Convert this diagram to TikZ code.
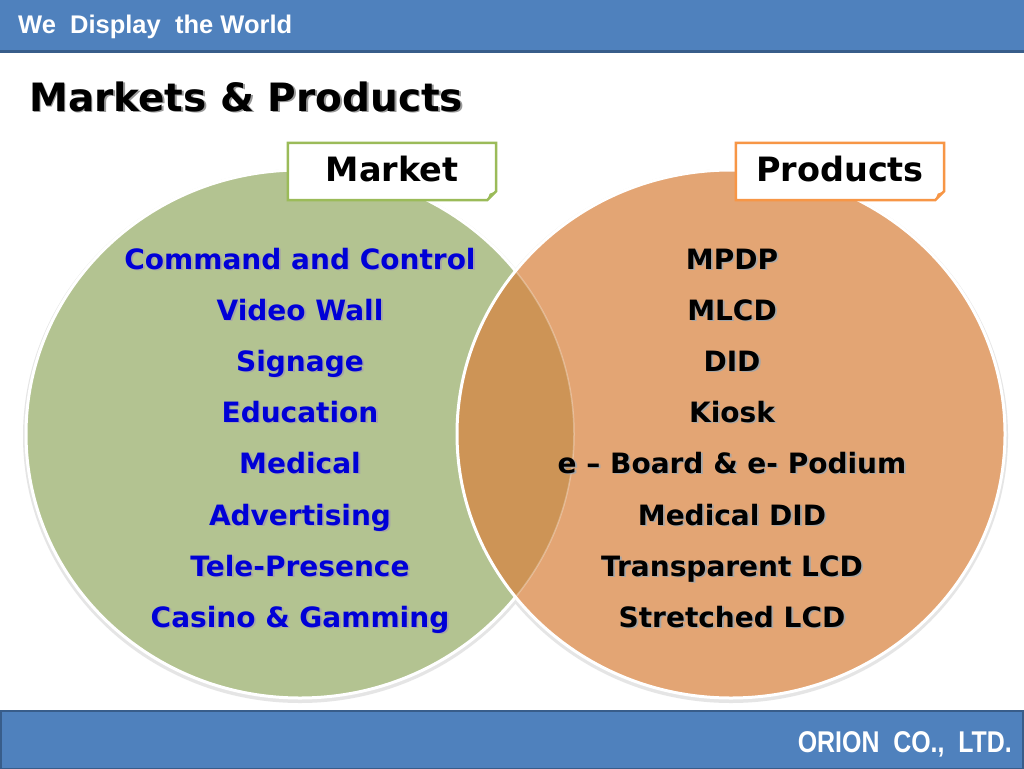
\documentclass[tikz,border=0pt]{standalone}
\usepackage{fontspec}
\setmainfont{DejaVu Sans}
\newfontfamily\arialf{Liberation Sans}
\newfontfamily\narrowf[FakeStretch=0.83]{Liberation Sans}
\definecolor{barblue}{RGB}{79,129,189}
\definecolor{barline}{RGB}{56,93,138}
\definecolor{mgreen}{RGB}{179,195,145}
\definecolor{morange}{RGB}{227,165,116}
\definecolor{mover}{RGB}{205,148,86}
\definecolor{mblue}{RGB}{0,0,215}
\definecolor{lgreen}{RGB}{155,187,89}
\definecolor{lorange}{RGB}{247,150,70}
\newcommand{\shd}[2][black!35]{\leavevmode\rlap{\raisebox{-1.8pt}{\hspace{1.8pt}\textcolor{#1}{#2}}}#2}
\tikzset{
  item/.style={inner sep=0pt, anchor=base, font=\fontsize{28}{32}\selectfont\bfseries},
  leftitem/.style={item, text=mblue},
  rightitem/.style={item, text=black},
  labelbox/.style={minimum width=208pt, minimum height=57pt, inner sep=0pt},
  labeltext/.style={inner sep=0pt, anchor=base, font=\fontsize{33.5}{38}\selectfont\bfseries},
}
\begin{document}
\begin{tikzpicture}[x=1pt,y=-1pt]
\useasboundingbox (0,0) rectangle (1024,768);
\fill[white] (0,0) rectangle (1024,768);
% bars
\fill[barblue] (0,0) rectangle (1024,51);
\draw[barline, line width=2.5pt] (0,51.5) -- (1024,51.5);
\fill[barblue, draw=barline, line width=2pt] (1,711) rectangle (1023,769);
\node[anchor=base west, inner sep=0pt, text=white, font=\arialf\fontsize{25.5}{28}\selectfont\bfseries] (slogan) at (18,34) {We\ \ Display\ \ the World};
\node[anchor=base east, inner sep=0pt, text=white, font=\narrowf\fontsize{30}{32}\selectfont\bfseries] (company) at (1012,752) {ORION\ \ CO.,\ \ LTD.};
% title
\node[anchor=base west, inner sep=0pt, font=\fontsize{39}{44}\selectfont\bfseries] (title) at (29,111) {\shd[black!40]{Markets \& Products}};
% circles
\fill[black!10] (300,436) ellipse [x radius=277pt, y radius=267pt];
\fill[black!10] (731,436) ellipse [x radius=277pt, y radius=267pt];
\fill[mgreen, draw=white, line width=3pt] (300,434) ellipse [x radius=274pt, y radius=264pt];
\fill[morange] (731,434) ellipse [x radius=274pt, y radius=264pt];
\begin{scope}
  \clip (300,434) ellipse [x radius=274pt, y radius=264pt];
  \fill[mover] (731,434) ellipse [x radius=274pt, y radius=264pt];
\end{scope}
\begin{scope}
  \clip (731,434) ellipse [x radius=274pt, y radius=264pt];
  \draw[white, opacity=0.3, line width=1.5pt] (300,434) ellipse [x radius=274pt, y radius=264pt];
\end{scope}
\draw[white, line width=3pt] (731,434) ellipse [x radius=274pt, y radius=264pt];
% label boxes
\node[labelbox] (mk) at (392,171.5) {};
\fill[white, draw=lgreen, line width=2.5pt] (mk.north west) -- (mk.north east) -- ([yshift=9pt]mk.south east) -- ([xshift=-9pt]mk.south east) -- (mk.south west) -- cycle;
\fill[lgreen] ([yshift=9pt]mk.south east) -- ([xshift=-9pt]mk.south east) -- ([xshift=-6.5pt,yshift=6.5pt]mk.south east) -- cycle;
\node[labeltext] (mktext) at (392,181) {Market};
\node[labelbox] (pr) at (840,171.5) {};
\fill[white, draw=lorange, line width=2.5pt] (pr.north west) -- (pr.north east) -- ([yshift=9pt]pr.south east) -- ([xshift=-9pt]pr.south east) -- (pr.south west) -- cycle;
\fill[lorange] ([yshift=9pt]pr.south east) -- ([xshift=-9pt]pr.south east) -- ([xshift=-6.5pt,yshift=6.5pt]pr.south east) -- cycle;
\node[labeltext] (prtext) at (840,181) {Products};
% left items
\node[leftitem] (l1) at (300,269) {\shd{Command and Control}};
\node[leftitem] (l2) at (300,320) {\shd{Video Wall}};
\node[leftitem] (l3) at (300,371) {\shd{Signage}};
\node[leftitem] (l4) at (300,422) {\shd{Education}};
\node[leftitem] (l5) at (300,473) {\shd{Medical}};
\node[leftitem] (l6) at (300,525) {\shd{Advertising}};
\node[leftitem] (l7) at (300,576) {\shd{Tele-Presence}};
\node[leftitem] (l8) at (300,627) {\shd{Casino \& Gamming}};
% right items
\node[rightitem] (r1) at (732,269) {\shd{MPDP}};
\node[rightitem] (r2) at (732,320) {\shd{MLCD}};
\node[rightitem] (r3) at (732,371) {\shd{DID}};
\node[rightitem] (r4) at (732,422) {\shd{Kiosk}};
\node[rightitem] (r5) at (732,473) {\shd{e – Board \& e- Podium}};
\node[rightitem] (r6) at (732,525) {\shd{Medical DID}};
\node[rightitem] (r7) at (732,576) {\shd{Transparent LCD}};
\node[rightitem] (r8) at (732,627) {\shd{Stretched LCD}};
\end{tikzpicture}
\end{document}
